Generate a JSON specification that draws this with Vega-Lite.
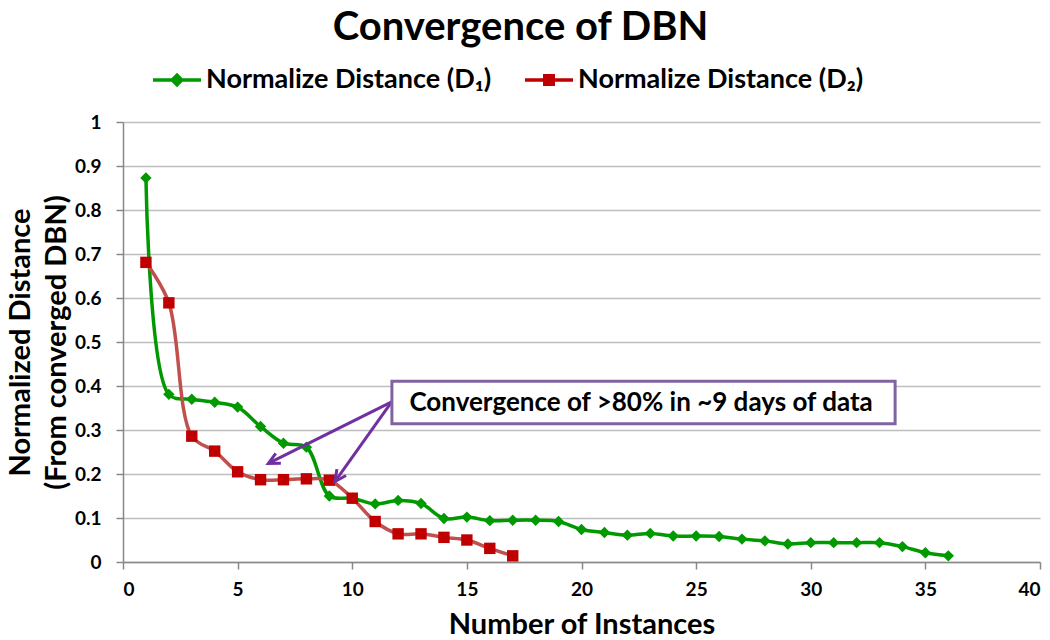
{
  "$schema": "https://vega.github.io/schema/vega-lite/v6.json",
  "width": 917,
  "height": 440,
  "autosize": {"type": "none"},
  "padding": {"left": 123, "top": 122, "right": 10, "bottom": 78},
  "background": "white",
  "config": {"font": "Lato", "view": {"stroke": null}},
  "title": {"text": "Convergence of DBN", "fontSize": 40, "fontWeight": "bold", "color": "black", "anchor": "middle", "dx": -61, "offset": 8},
  "datasets": {
    "series": [
      {"series": "Normalize Distance (D₁)", "instances": 1, "distance": 0.873},
      {"series": "Normalize Distance (D₁)", "instances": 2, "distance": 0.381},
      {"series": "Normalize Distance (D₁)", "instances": 3, "distance": 0.370},
      {"series": "Normalize Distance (D₁)", "instances": 4, "distance": 0.363},
      {"series": "Normalize Distance (D₁)", "instances": 5, "distance": 0.352},
      {"series": "Normalize Distance (D₁)", "instances": 6, "distance": 0.308},
      {"series": "Normalize Distance (D₁)", "instances": 7, "distance": 0.270},
      {"series": "Normalize Distance (D₁)", "instances": 8, "distance": 0.261},
      {"series": "Normalize Distance (D₁)", "instances": 9, "distance": 0.150},
      {"series": "Normalize Distance (D₁)", "instances": 10, "distance": 0.145},
      {"series": "Normalize Distance (D₁)", "instances": 11, "distance": 0.132},
      {"series": "Normalize Distance (D₁)", "instances": 12, "distance": 0.140},
      {"series": "Normalize Distance (D₁)", "instances": 13, "distance": 0.133},
      {"series": "Normalize Distance (D₁)", "instances": 14, "distance": 0.099},
      {"series": "Normalize Distance (D₁)", "instances": 15, "distance": 0.102},
      {"series": "Normalize Distance (D₁)", "instances": 16, "distance": 0.094},
      {"series": "Normalize Distance (D₁)", "instances": 17, "distance": 0.095},
      {"series": "Normalize Distance (D₁)", "instances": 18, "distance": 0.095},
      {"series": "Normalize Distance (D₁)", "instances": 19, "distance": 0.092},
      {"series": "Normalize Distance (D₁)", "instances": 20, "distance": 0.074},
      {"series": "Normalize Distance (D₁)", "instances": 21, "distance": 0.067},
      {"series": "Normalize Distance (D₁)", "instances": 22, "distance": 0.061},
      {"series": "Normalize Distance (D₁)", "instances": 23, "distance": 0.065},
      {"series": "Normalize Distance (D₁)", "instances": 24, "distance": 0.059},
      {"series": "Normalize Distance (D₁)", "instances": 25, "distance": 0.059},
      {"series": "Normalize Distance (D₁)", "instances": 26, "distance": 0.058},
      {"series": "Normalize Distance (D₁)", "instances": 27, "distance": 0.052},
      {"series": "Normalize Distance (D₁)", "instances": 28, "distance": 0.048},
      {"series": "Normalize Distance (D₁)", "instances": 29, "distance": 0.041},
      {"series": "Normalize Distance (D₁)", "instances": 30, "distance": 0.044},
      {"series": "Normalize Distance (D₁)", "instances": 31, "distance": 0.044},
      {"series": "Normalize Distance (D₁)", "instances": 32, "distance": 0.044},
      {"series": "Normalize Distance (D₁)", "instances": 33, "distance": 0.044},
      {"series": "Normalize Distance (D₁)", "instances": 34, "distance": 0.035},
      {"series": "Normalize Distance (D₁)", "instances": 35, "distance": 0.021},
      {"series": "Normalize Distance (D₁)", "instances": 36, "distance": 0.014},
      {"series": "Normalize Distance (D₂)", "instances": 1, "distance": 0.681},
      {"series": "Normalize Distance (D₂)", "instances": 2, "distance": 0.589},
      {"series": "Normalize Distance (D₂)", "instances": 3, "distance": 0.286},
      {"series": "Normalize Distance (D₂)", "instances": 4, "distance": 0.252},
      {"series": "Normalize Distance (D₂)", "instances": 5, "distance": 0.205},
      {"series": "Normalize Distance (D₂)", "instances": 6, "distance": 0.187},
      {"series": "Normalize Distance (D₂)", "instances": 7, "distance": 0.187},
      {"series": "Normalize Distance (D₂)", "instances": 8, "distance": 0.189},
      {"series": "Normalize Distance (D₂)", "instances": 9, "distance": 0.186},
      {"series": "Normalize Distance (D₂)", "instances": 10, "distance": 0.145},
      {"series": "Normalize Distance (D₂)", "instances": 11, "distance": 0.092},
      {"series": "Normalize Distance (D₂)", "instances": 12, "distance": 0.064},
      {"series": "Normalize Distance (D₂)", "instances": 13, "distance": 0.064},
      {"series": "Normalize Distance (D₂)", "instances": 14, "distance": 0.056},
      {"series": "Normalize Distance (D₂)", "instances": 15, "distance": 0.050},
      {"series": "Normalize Distance (D₂)", "instances": 16, "distance": 0.031},
      {"series": "Normalize Distance (D₂)", "instances": 17, "distance": 0.014}
    ],
    "arrows": [
      {"arrow": "a", "fromX": 11.72, "fromY": 0.364, "toX": 6.34, "toY": 0.224},
      {"arrow": "b", "fromX": 11.72, "fromY": 0.364, "toX": 9.25, "toY": 0.183}
    ],
    "note": [
      {"label": "Convergence of >80% in ~9 days of data", "left": 11.73, "right": 33.68, "top": 0.411, "bottom": 0.314, "cx": 22.6, "cy": 0.362}
    ]
  },
  "layer": [
    {
      "data": {"name": "series"},
      "mark": {"type": "line", "interpolate": "catmull-rom", "strokeWidth": 3.5},
      "encoding": {
        "x": {
          "field": "instances", "type": "quantitative",
          "scale": {"domain": [0, 40], "nice": false},
          "axis": {
            "title": "Number of Instances", "values": [0, 5, 10, 15, 20, 25, 30, 35, 40],
            "grid": false, "domainColor": "#888888", "domainWidth": 1.5, "tickColor": "#888888", "tickWidth": 1.5, "tickSize": 7,
            "labelFontSize": 19, "labelFontWeight": "bold", "labelColor": "black", "labelPadding": 11,
            "titleFontSize": 29, "titleFontWeight": "bold", "titleColor": "black", "titlePadding": 11
          }
        },
        "y": {
          "field": "distance", "type": "quantitative",
          "scale": {"domain": [0, 1], "nice": false},
          "axis": {
            "title": ["Normalized Distance", "(From converged DBN)"], "values": [0, 0.1, 0.2, 0.3, 0.4, 0.5, 0.6, 0.7, 0.8, 0.9, 1], "format": "~g",
            "grid": true, "gridColor": "#BEBEBE", "gridWidth": 1.5,
            "domainColor": "#888888", "domainWidth": 1.5, "tickColor": "#888888", "tickWidth": 1.5, "tickSize": 7,
            "labelFontSize": 19, "labelFontWeight": "bold", "labelColor": "black", "labelPadding": 15,
            "titleFontSize": 29, "titleFontWeight": "bold", "titleColor": "black", "titlePadding": 3, "titleLineHeight": 36
          }
        },
        "color": {
          "field": "series", "type": "nominal",
          "scale": {"domain": ["Normalize Distance (D₁)", "Normalize Distance (D₂)"], "range": ["#009900", "#C0504D"]},
          "legend": {
            "title": null, "orient": "none", "legendX": 30, "legendY": -66, "direction": "horizontal",
            "symbolSize": 2304, "labelFontSize": 27, "labelFontWeight": "bold", "labelColor": "black", "labelLimit": 0,
            "labelOffset": 5, "columnPadding": 33,
            "encode": {
              "symbols": {
                "update": {
                  "shape": {"signal": "datum.index === 0 ? 'M-1,-0.07H1V0.07H-1Z M0,-0.3L0.3,0L0,0.3L-0.3,0Z' : 'M-1,-0.07H1V0.07H-1Z M-0.25,-0.25H0.25V0.25H-0.25Z'"},
                  "fill": {"signal": "datum.index === 0 ? '#009900' : '#C00000'"},
                  "fillOpacity": {"value": 1},
                  "strokeWidth": {"value": 0}
                }
              }
            }
          }
        }
      }
    },
    {
      "data": {"name": "series"},
      "transform": [{"filter": {"field": "series", "equal": "Normalize Distance (D₁)"}}],
      "mark": {"type": "point", "shape": "diamond", "filled": true, "size": 130, "color": "#009900", "opacity": 1},
      "encoding": {
        "x": {"field": "instances", "type": "quantitative"},
        "y": {"field": "distance", "type": "quantitative"}
      }
    },
    {
      "data": {"name": "series"},
      "transform": [{"filter": {"field": "series", "equal": "Normalize Distance (D₂)"}}],
      "mark": {"type": "point", "shape": "square", "filled": true, "size": 130, "color": "#C00000", "opacity": 1},
      "encoding": {
        "x": {"field": "instances", "type": "quantitative"},
        "y": {"field": "distance", "type": "quantitative"}
      }
    },
    {
      "data": {"name": "arrows"},
      "mark": {"type": "rule", "color": "#7030A0", "strokeWidth": 3},
      "encoding": {
        "x": {"field": "fromX", "type": "quantitative"},
        "y": {"field": "fromY", "type": "quantitative"},
        "x2": {"field": "toX"},
        "y2": {"field": "toY"}
      }
    },
    {
      "data": {"name": "arrows"},
      "transform": [{"filter": {"field": "arrow", "equal": "a"}}],
      "mark": {"type": "point", "shape": "M-0.5,1L0,0L0.5,1", "filled": false, "stroke": "#7030A0", "strokeWidth": 3, "size": 500, "angle": 243, "opacity": 1},
      "encoding": {
        "x": {"field": "toX", "type": "quantitative"},
        "y": {"field": "toY", "type": "quantitative"}
      }
    },
    {
      "data": {"name": "arrows"},
      "transform": [{"filter": {"field": "arrow", "equal": "b"}}],
      "mark": {"type": "point", "shape": "M-0.5,1L0,0L0.5,1", "filled": false, "stroke": "#7030A0", "strokeWidth": 3, "size": 500, "angle": 215, "opacity": 1},
      "encoding": {
        "x": {"field": "toX", "type": "quantitative"},
        "y": {"field": "toY", "type": "quantitative"}
      }
    },
    {
      "data": {"name": "note"},
      "mark": {"type": "rect", "fill": "white", "stroke": "#8064A2", "strokeWidth": 3},
      "encoding": {
        "x": {"field": "left", "type": "quantitative"},
        "x2": {"field": "right"},
        "y": {"field": "top", "type": "quantitative"},
        "y2": {"field": "bottom"}
      }
    },
    {
      "data": {"name": "note"},
      "mark": {"type": "text", "fontSize": 26, "fontWeight": "bold", "color": "black", "align": "center", "baseline": "middle"},
      "encoding": {
        "x": {"field": "cx", "type": "quantitative"},
        "y": {"field": "cy", "type": "quantitative"},
        "text": {"field": "label"}
      }
    }
  ]
}
